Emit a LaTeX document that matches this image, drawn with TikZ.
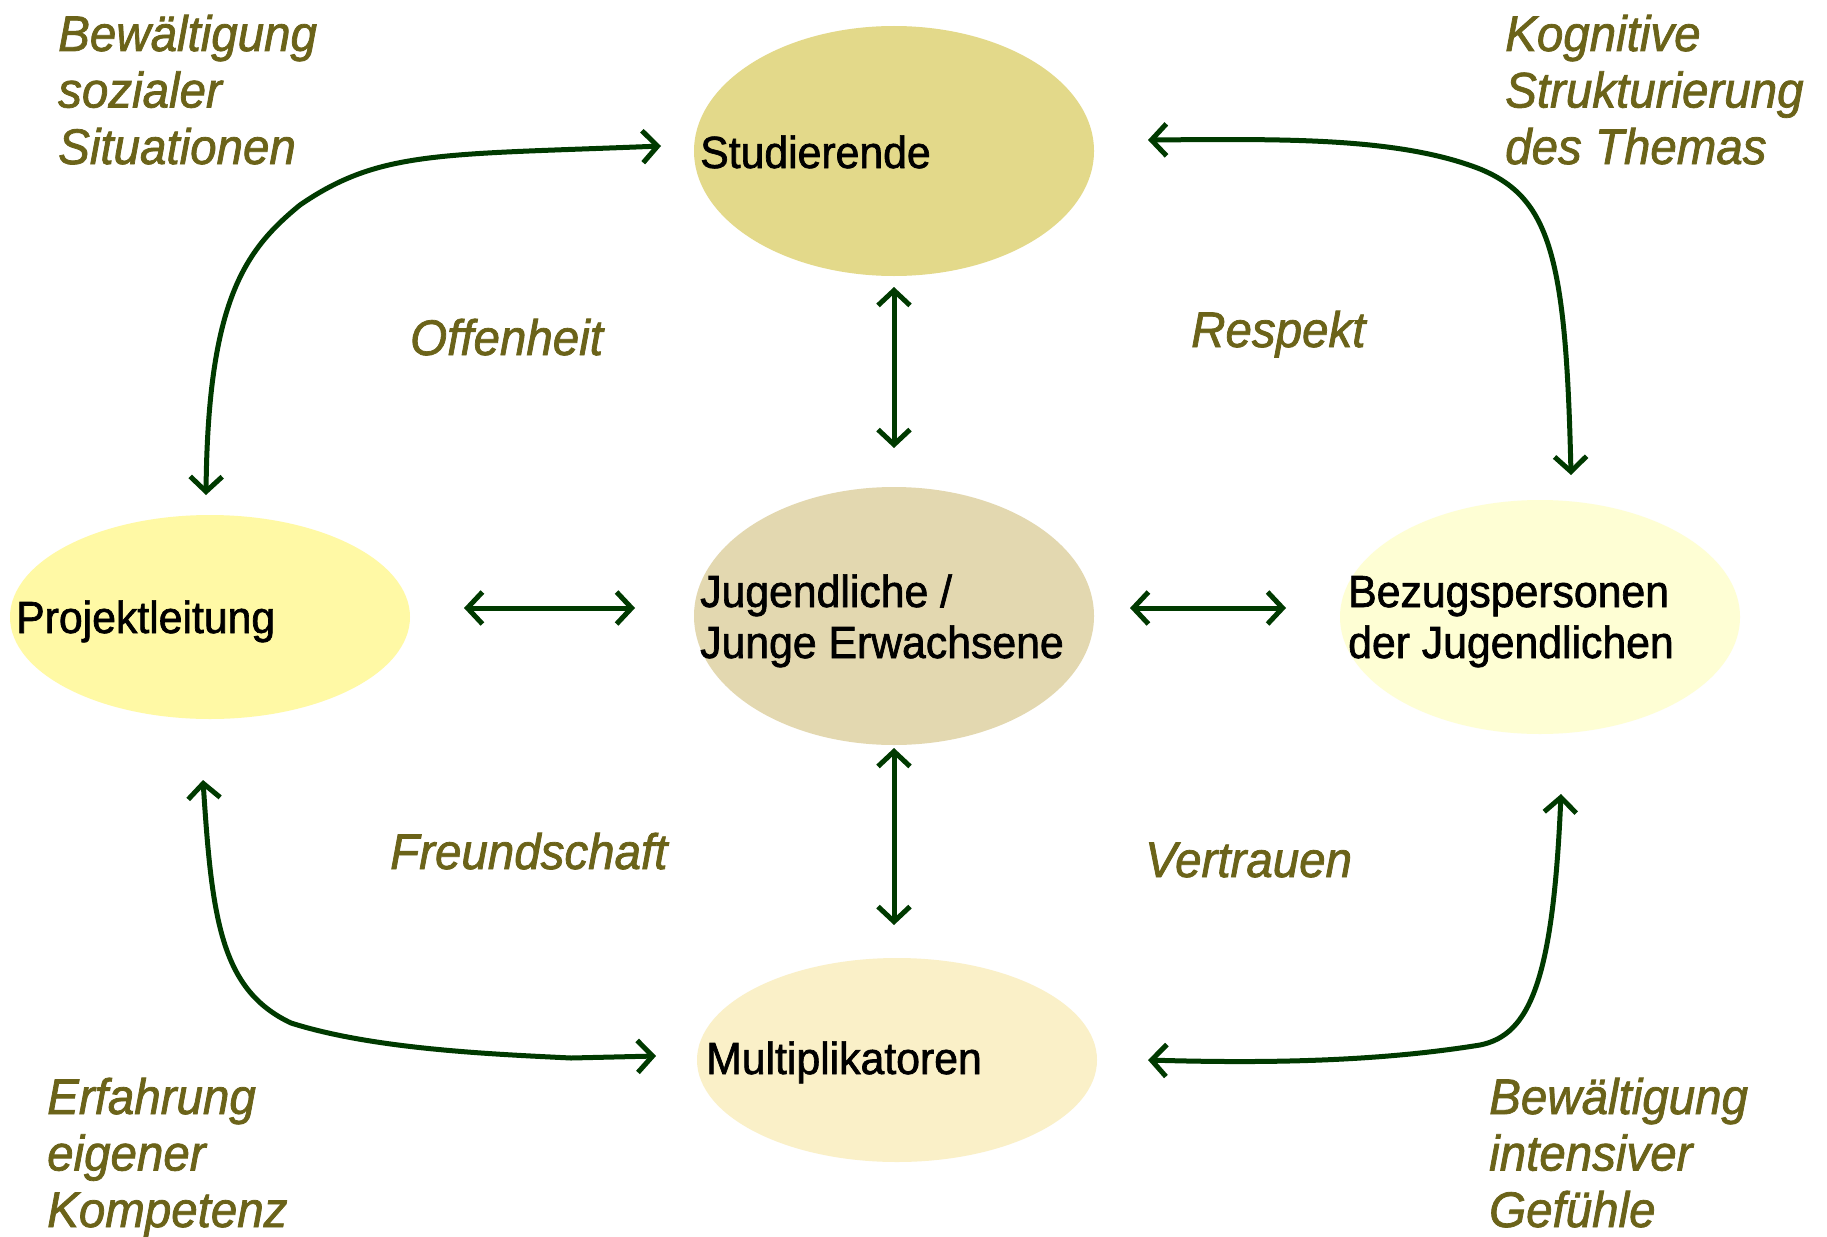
\documentclass[tikz,border=0pt]{standalone}
\usepackage{fontspec}
\setmainfont{Liberation Sans}[FakeStretch=0.95,FakeBold=1.5]
\usetikzlibrary{shapes.geometric,arrows.meta}
\definecolor{conncol}{RGB}{0,58,0}
\definecolor{lblcol}{RGB}{107,99,25}
\definecolor{cstud}{RGB}{227,217,138}
\definecolor{cjug}{RGB}{227,216,176}
\definecolor{cproj}{RGB}{255,249,165}
\definecolor{cbez}{RGB}{254,254,212}
\definecolor{cmult}{RGB}{250,240,200}
\begin{document}
\begin{tikzpicture}[x=1pt,y=-1pt,
  blob/.style={ellipse, draw=none, inner sep=0pt, minimum width=400pt},
  nodetext/.style={anchor=base west, inner sep=0pt, font=\fontsize{45}{51}\selectfont, align=left, text=black},
  lab/.style={anchor=base west, inner sep=0pt, font=\fontsize{50}{56.5}\selectfont\itshape, align=left, text=lblcol},
  conn/.style={draw=conncol, line width=5pt, line join=miter, {Straight Barb[length=15pt,width=32pt]}-{Straight Barb[length=15pt,width=32pt]}}]
\useasboundingbox (0,0) rectangle (1827,1236);
\fill[white] (0,0) rectangle (1827,1236);

% ellipses
\node[blob, fill=cstud, minimum height=250pt] (stud) at (894,151) {};
\node[blob, fill=cjug, minimum height=258pt] (jug) at (894,616) {};
\node[blob, fill=cproj, minimum height=204pt] (proj) at (210,617) {};
\node[blob, fill=cbez, minimum height=234pt] (bez) at (1540,617) {};
\node[blob, fill=cmult, minimum height=204pt] (mult) at (897,1060) {};

% node texts (base = baseline of last line)
\node[nodetext] (tstud) at (700,168) {Studierende};
\node[nodetext] (tproj) at (16,633) {Projektleitung};
\node[nodetext] (tjug) at (700,658) {Jugendliche /\\Junge Erwachsene};
\node[nodetext] (tbez) at (1348,658) {Bezugspersonen\\der Jugendlichen};
\node[nodetext] (tmult) at (706,1074) {Multiplikatoren};

% labels
\node[lab] (l1) at (58,164) {Bewältigung\\sozialer\\Situationen};
\node[lab] (l2) at (1505,164) {Kognitive\\Strukturierung\\des Themas};
\node[lab] (l3) at (410,355) {Offenheit};
\node[lab] (l4) at (1191,347) {Respekt};
\node[lab] (l5) at (390,869) {Freundschaft};
\node[lab] (l6) at (1145,877) {Vertrauen};
\node[lab] (l7) at (47,1227) {Erfahrung\\eigener\\Kompetenz};
\node[lab] (l8) at (1489,1227) {Bewältigung\\intensiver\\Gefühle};

% connector end points
\coordinate (sv1) at (894,287);
\coordinate (sv2) at (894,448);
\coordinate (mv1) at (894,748);
\coordinate (mv2) at (894,925);
\coordinate (lh1) at (464,608);
\coordinate (lh2) at (635,608);
\coordinate (rh1) at (1130,608);
\coordinate (rh2) at (1286,608);
\coordinate (tl1) at (206,495);
\coordinate (tl2) at (661,146);
\coordinate (tr1) at (1148,140);
\coordinate (tr2) at (1571,475);
\coordinate (bl1) at (203,780);
\coordinate (bl2) at (656,1056);
\coordinate (br1) at (1148,1060);
\coordinate (br2) at (1561,794);

% connectors
\draw[conn] (sv1) -- (sv2);
\draw[conn] (mv1) -- (mv2);
\draw[conn] (lh1) -- (lh2);
\draw[conn] (rh1) -- (rh2);
\draw[conn] (tl1) .. controls (208,300) and (245,250) .. (300,205) .. controls (380,150) and (440,155) .. (tl2);
\draw[conn] (tr1) .. controls (1282,139) and (1398,137) .. (1480,169) .. controls (1550,198) and (1566,256) .. (tr2);
\draw[conn] (bl1) .. controls (212,920) and (221,990) .. (291,1023) .. controls (373,1049) and (489,1054) .. (571,1058) -- (bl2);
\draw[conn] (br1) .. controls (1282,1064) and (1387,1060) .. (1480,1045) .. controls (1530,1035) and (1553,980) .. (br2);
\end{tikzpicture}
\end{document}
